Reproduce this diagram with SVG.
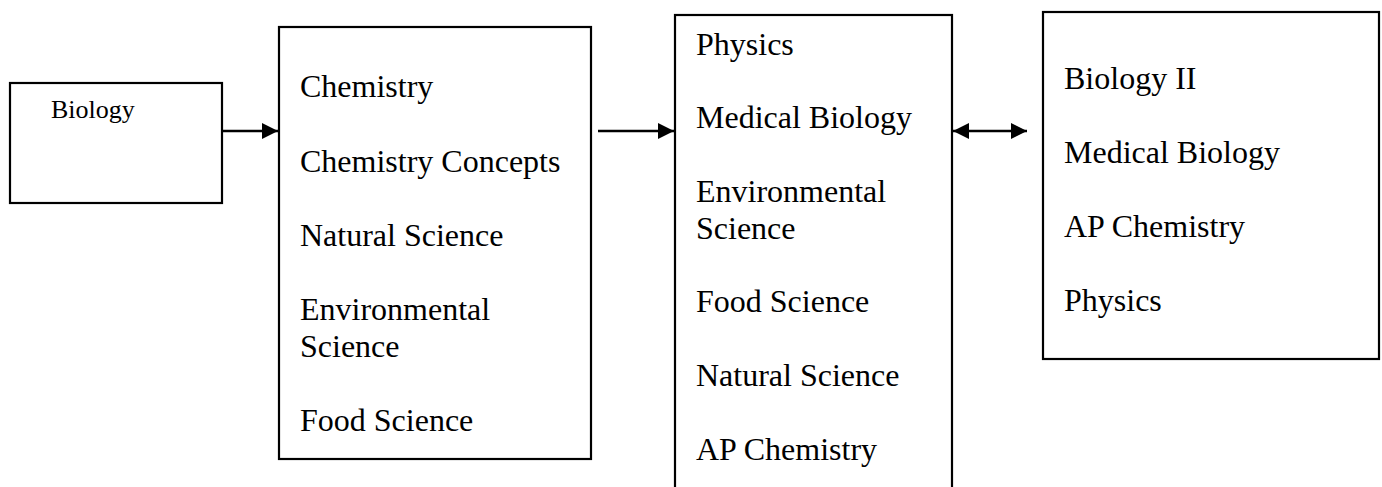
<svg xmlns="http://www.w3.org/2000/svg" width="1382" height="487" viewBox="0 0 1382 487">
<style>
.box{fill:#fff;stroke:#000;stroke-width:2.2}
.t{font-family:"Liberation Serif","Times New Roman",serif;font-size:32px;fill:#000}
.s{font-family:"Liberation Serif","Times New Roman",serif;font-size:26px;fill:#000}
.c{stroke:#000;stroke-width:2.4;fill:none}
</style>
<defs>
<marker id="ah" markerUnits="userSpaceOnUse" markerWidth="16" markerHeight="16" refX="16" refY="8" orient="auto-start-reverse">
<path d="M0,0 L16,8 L0,16 z" fill="#000"/>
</marker>
</defs>
<rect width="1382" height="487" fill="#fff"/>
<g id="biology">
<rect class="box" x="10" y="83" width="212" height="120"/>
<text class="s" x="51" y="118">Biology</text>
</g>
<g id="stage2">
<rect class="box" x="279" y="27" width="312" height="432"/>
<text class="t" x="300" y="97">Chemistry</text>
<text class="t" x="300" y="172">Chemistry Concepts</text>
<text class="t" x="300" y="246">Natural Science</text>
<text class="t" x="300" y="320">Environmental</text>
<text class="t" x="300" y="357">Science</text>
<text class="t" x="300" y="431">Food Science</text>
</g>
<g id="stage3">
<rect class="box" x="675" y="15" width="277" height="490"/>
<text class="t" x="696" y="55">Physics</text>
<text class="t" x="696" y="128">Medical Biology</text>
<text class="t" x="696" y="202">Environmental</text>
<text class="t" x="696" y="239">Science</text>
<text class="t" x="696" y="312">Food Science</text>
<text class="t" x="696" y="386">Natural Science</text>
<text class="t" x="696" y="460">AP Chemistry</text>
</g>
<g id="stage4">
<rect class="box" x="1043" y="12" width="336" height="347"/>
<text class="t" x="1064" y="89">Biology II</text>
<text class="t" x="1064" y="163">Medical Biology</text>
<text class="t" x="1064" y="237">AP Chemistry</text>
<text class="t" x="1064" y="311">Physics</text>
</g>
<g id="connectors">
<line class="c" x1="222" y1="131" x2="278" y2="131" marker-end="url(#ah)"/>
<line class="c" x1="598" y1="131" x2="674" y2="131" marker-end="url(#ah)"/>
<line class="c" x1="953" y1="131" x2="1027" y2="131" marker-start="url(#ah)" marker-end="url(#ah)"/>
</g>
</svg>
